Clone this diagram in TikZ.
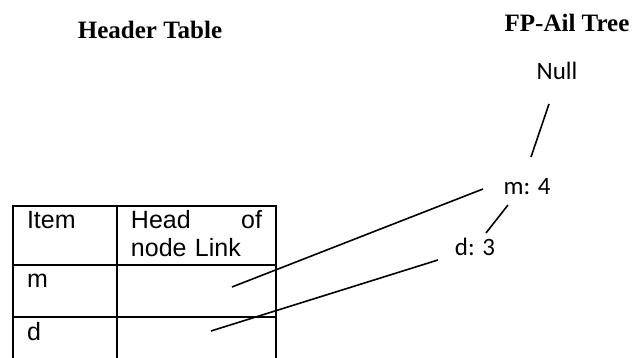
\documentclass[tikz,border=0pt]{standalone}
\usepackage{fontspec}
\newfontfamily\tablefont{Liberation Sans}
\newfontfamily\treefont{Carlito}
\newfontfamily\titlefont{Liberation Serif}
\usetikzlibrary{positioning}

\begin{document}
\begin{tikzpicture}[thick, node distance = 3em]
        \tikzset{
            cell/.style    = {draw, line width=1pt, rectangle, outer sep=0pt, inner xsep=7pt, inner ysep=2.5pt,
                              align=left, text height=9pt, font=\tablefont\fontsize{12.5}{14}\selectfont},
            keycol/.style  = {cell, text width=38pt},
            linkcol/.style = {cell, text width=65.5pt},
            title/.style   = {inner sep=0pt, text height=8.3pt, text depth=0pt,
                              font=\titlefont\bfseries\fontsize{12.5}{15}\selectfont},
            entry/.style   = {inner sep=0pt, text height=8pt, text depth=0pt,
                              font=\treefont\fontsize{12.5}{15}\selectfont}
        }
        \useasboundingbox (0,0) rectangle (317pt,179pt);
        \clip (0,0) rectangle (317pt,179pt);

        % header table
        \node[title] (HDR) at (75pt,164pt) {Header Table};
        \node[keycol, text depth=15.5pt, anchor=north west] (ITEM) at (6.5pt,76pt) {Item};
        \node[linkcol, text depth=15.5pt, right=0pt of ITEM] (HEAD) {Head \hfill of\\node Link};
        \node[keycol, text depth=12.25pt, below=0pt of ITEM] (KM) {m};
        \node[linkcol, text depth=12.25pt, right=0pt of KM] (LM) {};
        \node[keycol, text depth=12pt, below=0pt of KM] (KD) {d};
        \node[linkcol, text depth=12pt, right=0pt of KD] (LD) {};
        \coordinate (MPTR) at ([shift={(57.5pt,-11pt)}]LM.north west);
        \coordinate (DPTR) at ([shift={(47pt,-6.75pt)}]LD.north west);

        % tree
        \node[entry] (NULL) at (278.5pt,143pt) {Null};
        \node[title, on grid, above right=24.5pt and 5pt of NULL] (FP) {FP-Ail Tree};
        \node[entry, on grid, below left=57.5pt and 15pt of NULL] (M4) {m: 4};
        \node[entry, on grid, below left=30.5pt and 26pt of M4] (D3) {d: 3};

        \draw ([shift={(-4pt,-16pt)}]NULL.center) -- ([shift={(2pt,15pt)}]M4.center);
        \draw ([shift={(-9.5pt,-9pt)}]M4.center) -- ([shift={(5.5pt,7.5pt)}]D3.center);
        \draw (MPTR) -- ([shift={(-22pt,-1pt)}]M4.center);
        \draw (DPTR) -- ([shift={(-18.5pt,-6pt)}]D3.center);
    \end{tikzpicture}
\end{document}
